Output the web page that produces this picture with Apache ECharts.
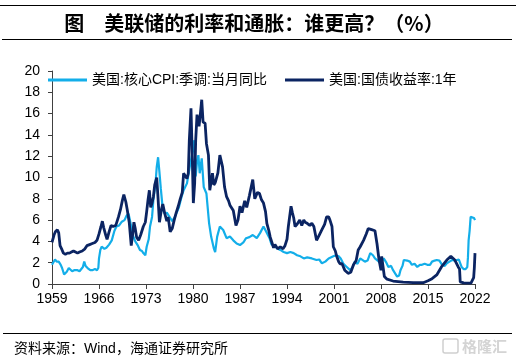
<!DOCTYPE html>
<html><head><meta charset="utf-8">
<script src="https://cdn.jsdelivr.net/npm/echarts@6/dist/echarts.min.js"></script>
<style>html,body{margin:0;padding:0;background:#fff}#c{width:516px;height:358px}</style>
</head><body><div id="c"></div>
<script>
const START_YEAR = 1959;
const xTickLabels = ['1959','1966','1973','1980','1987','1994','2001','2008','2015','2022'];
const yTickLabels = ['0','2','4','6','8','10','12','14','16','18','20'];
const seriesNames = ['美国:核心CPI:季调:当月同比', '美国:国债收益率:1年'];

const cpiYears = [1959.0,1959.45,1959.7,1960.0,1960.3,1960.5,1960.8,1961.0,1961.2,1961.5,1961.7,1962.0,1962.3,1962.8,1963.1,1963.3,1963.6,1963.8,1964.0,1964.3,1964.7,1965.0,1965.4,1965.7,1965.9,1966.0,1966.2,1966.4,1966.8,1967.1,1967.5,1967.9,1968.3,1968.6,1969.0,1969.4,1969.8,1970.1,1970.4,1970.6,1970.9,1971.1,1971.4,1971.8,1972.1,1972.4,1972.6,1972.9,1973.1,1973.4,1973.6,1973.9,1974.1,1974.4,1974.6,1974.8,1975.0,1975.2,1975.5,1975.8,1976.1,1976.5,1976.9,1977.3,1977.5,1977.9,1978.3,1978.6,1979.1,1979.6,1979.9,1980.2,1980.4,1980.6,1980.8,1981.0,1981.3,1981.6,1982.0,1982.4,1982.7,1983.1,1983.3,1983.6,1984.0,1984.5,1985.0,1985.5,1986.0,1986.5,1987.0,1987.5,1987.9,1988.4,1988.9,1989.5,1990.0,1990.5,1991.0,1991.4,1991.7,1992.1,1992.5,1993.0,1993.5,1994.0,1994.5,1995.0,1995.5,1996.0,1996.5,1997.0,1997.7,1998.4,1998.8,1999.2,1999.7,2000.2,2000.9,2001.3,2001.7,2002.0,2002.4,2002.9,2003.4,2003.8,2004.1,2004.5,2004.9,2005.6,2006.0,2006.4,2006.8,2007.1,2007.5,2007.9,2008.4,2008.8,2009.1,2009.5,2009.8,2010.1,2010.4,2010.7,2010.9,2011.2,2011.4,2011.9,2012.3,2012.6,2013.0,2013.4,2013.8,2014.1,2014.5,2014.9,2015.3,2015.6,2016.0,2016.3,2016.7,2017.1,2017.5,2017.8,2018.2,2018.6,2019.0,2019.3,2019.6,2019.8,2020.0,2020.3,2020.6,2020.85,2020.95,2021.05,2021.2,2021.35,2021.6,2021.85,2022.0];
const cpiValues = [1.8,2.3,2.1,2.1,1.8,1.5,0.9,0.8,1.15,1.5,1.4,1.2,1.3,1.3,1.2,1.15,1.6,2.1,1.7,1.5,1.3,1.3,1.4,1.3,1.5,2.4,3.2,3.5,3.3,3.4,3.7,4.1,5.0,5.4,5.5,5.85,6.0,6.4,6.6,6.0,5.1,4.5,4.0,3.6,3.2,3.1,2.9,2.7,3.5,4.2,5.4,6.3,7.9,9.3,11.0,11.9,10.5,9.0,7.0,6.6,6.7,6.3,5.9,6.3,6.4,7.2,8.2,8.8,9.45,11.3,12.3,13.5,10.1,11.5,12.1,10.4,11.8,9.1,8.5,5.7,4.45,3.35,3.0,4.45,5.4,5.07,4.3,4.45,4.1,3.8,3.66,3.9,4.3,4.4,4.6,4.3,4.8,5.4,4.8,4.3,3.7,3.6,3.35,3.2,3.0,2.9,3.0,2.9,2.7,2.6,2.4,2.5,2.4,2.25,2.3,1.94,2.1,2.4,2.6,2.7,2.6,2.4,1.9,1.6,1.3,1.6,2.1,1.9,2.4,2.1,2.2,2.9,2.7,2.4,2.2,1.94,2.4,2.0,1.6,1.7,1.3,1.0,0.7,0.8,1.3,1.7,2.25,2.2,2.1,1.8,1.9,1.6,1.8,1.8,1.9,1.8,1.8,2.1,2.2,2.25,2.2,1.8,1.7,1.94,2.1,2.25,2.2,2.25,2.3,2.3,1.6,1.4,1.4,1.6,2.5,4.1,5.0,6.3,6.2,6.2,6.0];

const yieldYears = [1959.0,1959.3,1959.5,1959.8,1960.0,1960.2,1960.5,1960.7,1961.0,1961.3,1961.6,1961.9,1962.2,1962.5,1962.8,1963.1,1963.5,1963.9,1964.2,1964.6,1965.0,1965.4,1965.7,1966.0,1966.3,1966.5,1966.7,1967.0,1967.2,1967.5,1967.8,1968.1,1968.5,1968.9,1969.2,1969.5,1969.7,1970.0,1970.2,1970.5,1970.8,1971.0,1971.2,1971.4,1971.6,1971.9,1972.2,1972.6,1972.9,1973.1,1973.3,1973.5,1973.7,1973.9,1974.1,1974.3,1974.6,1974.8,1975.0,1975.3,1975.5,1975.8,1976.1,1976.3,1976.6,1976.9,1977.2,1977.5,1977.8,1978.1,1978.4,1978.6,1978.9,1979.1,1979.3,1979.45,1979.7,1979.85,1980.05,1980.25,1980.4,1980.6,1980.9,1981.1,1981.3,1981.5,1981.8,1982.0,1982.3,1982.5,1982.9,1983.1,1983.3,1983.7,1984.0,1984.4,1984.7,1985.0,1985.3,1985.5,1986.0,1986.4,1986.7,1987.0,1987.3,1987.7,1988.0,1988.4,1988.9,1989.2,1989.6,1989.9,1990.2,1990.5,1990.8,1991.0,1991.3,1991.5,1991.8,1992.0,1992.2,1992.6,1993.0,1993.4,1993.7,1994.0,1994.2,1994.6,1994.8,1995.0,1995.2,1995.5,1995.9,1996.2,1996.5,1996.7,1997.0,1997.4,1997.7,1998.0,1998.2,1998.4,1998.8,1999.2,1999.6,1999.9,2000.2,2000.4,2000.7,2000.9,2001.2,2001.4,2001.7,2001.9,2002.2,2002.6,2003.1,2003.5,2003.9,2004.3,2004.6,2004.9,2005.4,2005.8,2006.1,2006.6,2007.1,2007.4,2007.7,2008.0,2008.1,2008.5,2008.9,2009.8,2011.3,2012.8,2014.3,2015.0,2015.6,2016.3,2017.0,2017.8,2018.4,2019.0,2019.5,2019.7,2019.8,2020.3,2021.4,2021.6,2021.8,2021.9,2022.0];
const yieldValues = [3.9,4.6,4.9,5.1,4.8,3.6,3.2,2.9,2.8,2.9,2.9,3.0,3.1,3.0,2.9,3.0,3.1,3.3,3.6,3.7,3.8,3.9,4.1,4.7,5.4,5.9,5.3,4.6,4.2,4.9,5.5,5.4,5.5,6.3,7.0,7.9,8.4,7.7,7.0,5.8,3.6,4.6,5.8,5.2,4.4,4.1,4.6,5.4,5.8,6.8,7.9,8.8,7.2,7.6,8.2,9.3,10.0,8.0,5.8,7.0,7.5,6.6,5.9,6.3,4.9,5.2,6.0,6.7,7.3,8.0,8.6,10.4,10.1,9.9,10.4,13.5,16.5,13.0,7.6,9.5,13.5,15.9,14.8,16.0,17.3,15.2,15.1,13.2,12.1,8.8,10.4,9.3,9.5,10.4,12.1,11.0,9.1,8.2,7.8,7.4,6.9,5.5,6.0,7.3,6.7,7.8,7.2,8.3,9.8,8.0,8.6,8.5,7.9,7.6,6.8,5.7,5.0,4.4,3.8,3.4,3.7,3.3,3.5,3.3,3.6,4.2,5.4,7.3,6.7,6.2,5.4,5.6,6.0,5.5,6.0,5.8,5.7,5.5,5.7,5.4,5.3,4.1,4.6,5.1,5.6,6.3,6.3,6.0,5.4,3.5,3.1,2.6,2.1,1.9,1.9,1.3,1.0,1.1,1.8,2.2,3.2,3.5,4.1,4.7,5.2,5.1,5.0,3.8,2.3,1.3,2.6,0.7,0.45,0.28,0.18,0.13,0.12,0.3,0.5,0.85,1.6,2.25,2.6,2.25,1.6,1.4,0.2,0.1,0.08,0.15,0.6,1.5,2.9];

const toPoints = (ys, vs) => ys.map((y, i) => [y - START_YEAR, vs[i]]);
const CJK = '"Liberation Sans", "Noto Sans CJK SC", sans-serif';

const chart = echarts.init(document.getElementById('c'));
chart.setOption({
  animation: false,
  backgroundColor: '#fff',
  grid: { left: 52, right: 41, top: 71, bottom: 74, containLabel: false },
  legend: {
    left: 43, top: 68, itemWidth: 39, itemHeight: 3, itemGap: 18, icon: 'rect',
    textStyle: { fontFamily: CJK, fontSize: 14, color: '#000' },
    data: seriesNames
  },
  xAxis: {
    type: 'value', min: 0, max: 63, interval: 7,
    axisLine: { lineStyle: { color: '#404040', width: 1 } },
    axisTick: { show: true, length: 5, lineStyle: { color: '#404040' } },
    axisLabel: { margin: 8, fontFamily: 'Liberation Sans', fontSize: 14, color: '#000',
      formatter: v => xTickLabels[Math.round(v / 7)] },
    splitLine: { show: false }
  },
  yAxis: {
    type: 'value', min: 0, max: 20, interval: 2,
    axisLine: { show: true, lineStyle: { color: '#404040', width: 1 } },
    axisTick: { show: true, length: 4, lineStyle: { color: '#404040' } },
    axisLabel: { margin: 12, fontFamily: 'Liberation Sans', fontSize: 14, color: '#000',
      formatter: v => yTickLabels[Math.round(v / 2)] },
    splitLine: { show: false }
  },
  series: [
    { name: seriesNames[0], type: 'line', symbol: 'none', data: toPoints(cpiYears, cpiValues),
      lineStyle: { color: '#13aee9', width: 2.2 }, itemStyle: { color: '#13aee9' } },
    { name: seriesNames[1], type: 'line', symbol: 'none', data: toPoints(yieldYears, yieldValues),
      lineStyle: { color: '#0b2462', width: 2.8 }, itemStyle: { color: '#0b2462' } }
  ],
  graphic: [
    { type: 'line', shape: { x1: 0, y1: 5.5, x2: 516, y2: 5.5 }, style: { stroke: '#000', lineWidth: 1 } },
    { type: 'line', shape: { x1: 2, y1: 39.5, x2: 512, y2: 39.5 }, style: { stroke: '#000', lineWidth: 1 } },
    { type: 'text', x: 254, y: 23, style: { text: '图　美联储的利率和通胀：谁更高？（%）', font: 'bold 20px "Noto Sans CJK SC"', fill: '#000', textAlign: 'center', textVerticalAlign: 'middle' } },
    { type: 'line', shape: { x1: 3, y1: 333.5, x2: 512, y2: 333.5 }, style: { stroke: '#000', lineWidth: 1 } },
    { type: 'text', x: 14, y: 349, style: { text: '资料来源：Wind，海通证券研究所', font: '14px "Liberation Sans", "Noto Sans CJK SC"', fill: '#000', textVerticalAlign: 'middle' } },
    { type: 'rect', shape: { x: 443, y: 339, width: 15, height: 14, r: 2 }, style: { fill: 'none', stroke: '#cfcfcf', lineWidth: 1.5 } },
    { type: 'text', x: 462, y: 346, style: { text: '格隆汇', font: 'bold 15px "Noto Sans CJK SC"', fill: '#d4d4d4', textVerticalAlign: 'middle' } }
  ]
});
</script>
</body></html>
